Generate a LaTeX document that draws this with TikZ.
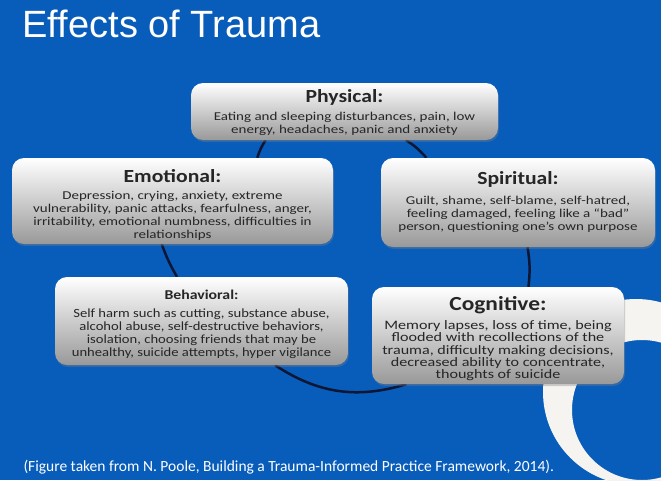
\documentclass[tikz,border=0pt]{standalone}
\usepackage{fontspec}
\setmainfont{Carlito}
\newfontfamily\boxfont[FakeStretch=1.17]{Carlito}
\newfontfamily\bodyfont[FakeStretch=1.25]{Carlito}
\newfontfamily\slidefont{Liberation Sans}
\usetikzlibrary{shadows}
\definecolor{slideblue}{RGB}{8,92,186}
\definecolor{ringline}{RGB}{14,22,52}
\definecolor{swoosh}{RGB}{246,244,240}
\newcommand{\boxhead}[2][0pt]{{\boxfont\bfseries\fontsize{18.5}{20}\selectfont\rule{0pt}{#1}#2}}
\pgfdeclarelayer{slide}
\pgfdeclarelayer{ring}
\pgfsetlayers{slide,ring,main}

\begin{document}
\begin{tikzpicture}
  [x=1pt,y=-1pt,
   box/.style={rounded corners=12pt,top color=white,middle color=gray!18,bottom color=gray!80,
     align=center,inner sep=0pt,text=black!85,
     font=\bodyfont\fontsize{12}{13}\selectfont,
     drop shadow={shadow xshift=1pt,shadow yshift=-2pt,opacity=.35}}]
  \useasboundingbox (0,0) rectangle (661,480);
  \node[anchor=base west,text=white,font=\slidefont\fontsize{38}{40}\selectfont] (title) at (19,37) {Effects of Trauma};
  \node[box,minimum width=307pt,minimum height=57pt] (phys) at (344.5,111.5)
    {\boxhead[15pt]{Physical:}\\[5pt] Eating and sleeping disturbances, pain, low\\ energy, headaches, panic and anxiety};
  \node[box,minimum width=321pt,minimum height=86pt] (emo) at (172.5,201)
    {\boxhead[20pt]{Emotional:}\\[4pt] Depression, crying, anxiety, extreme\\ vulnerability, panic attacks, fearfulness, anger,\\ irritability, emotional numbness, difficulties in\\ relationships};
  \node[box,minimum width=274pt,minimum height=89pt] (spi) at (518,202.5)
    {\boxhead{Spiritual:}\\[7pt] Guilt, shame, self-blame, self-hatred,\\ feeling damaged, feeling like a “bad”\\ person, questioning one’s own purpose};
  \node[box,minimum width=293pt,minimum height=88pt,font=\boxfont\fontsize{12.5}{13}\selectfont] (beh) at (201.5,321)
    {{\boxfont\bfseries\fontsize{13.5}{15}\selectfont\rule{0pt}{16pt}Behavioral:}\\[5pt] Self harm such as cutting, substance abuse,\\ alcohol abuse, self-destructive behaviors,\\ isolation, choosing friends that may be\\ unhealthy, suicide attempts, hyper vigilance};
  \node[box,minimum width=252pt,minimum height=97pt,font=\bodyfont\fontsize{12.9}{12.4}\selectfont] (cog) at (498,335.5)
    {{\boxfont\bfseries\fontsize{20}{22}\selectfont\rule{0pt}{21pt}Cognitive:}\\[6pt] Memory lapses, loss of time, being\\ flooded with recollections of the\\ trauma, difficulty making decisions,\\ decreased ability to concentrate,\\ thoughts of suicide};
  \node[anchor=base west,text=white,font=\fontsize{15.5}{17}\selectfont] (src) at (20,471)
    {(Figure taken from N. Poole, Building a Trauma-Informed Practice Framework, 2014).};
  \begin{pgfonlayer}{ring}
    \foreach \from/\to/\b in {phys.200/emo.27/8,emo.256/beh.119/5,beh.-31/cog.208/25,cog.58/spi.-78/8,spi.154/phys.-25/8}
      \draw[ringline,line width=2.5pt] (\from) to[bend right=\b] (\to);
  \end{pgfonlayer}
  \begin{pgfonlayer}{slide}
    \fill[slideblue] (0,0) rectangle (661,480);
    \clip (0,0) rectangle (661,480);
    \fill[swoosh,even odd rule] (636,392) circle[radius=93] (642,410) circle[radius=70];
  \end{pgfonlayer}
\end{tikzpicture}
\end{document}
